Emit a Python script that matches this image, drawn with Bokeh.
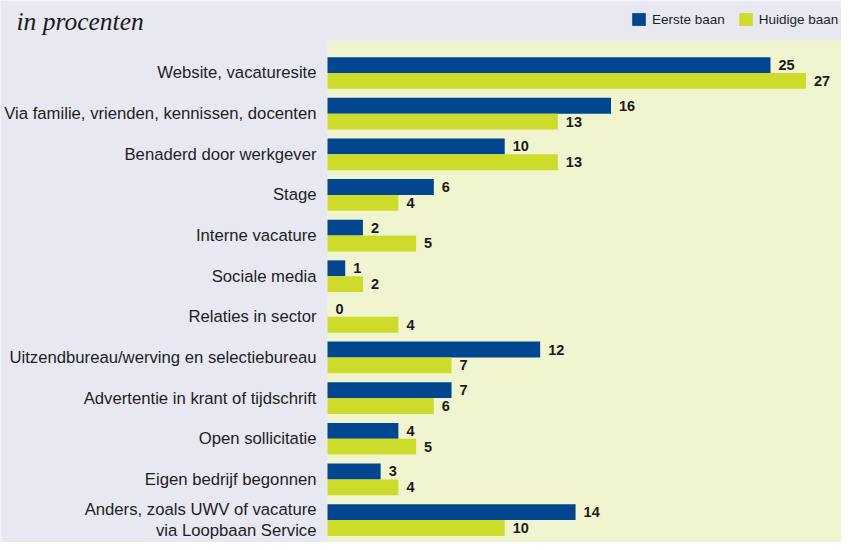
from bokeh.plotting import figure
from bokeh.models import Range1d, Legend, LegendItem, Label, BoxAnnotation
from bokeh.embed import file_html
from bokeh.resources import INLINE
from bokeh.core.properties import value

categories = [
    "Website, vacaturesite",
    "Via familie, vrienden, kennissen, docenten",
    "Benaderd door werkgever",
    "Stage",
    "Interne vacature",
    "Sociale media",
    "Relaties in sector",
    "Uitzendbureau/werving en selectiebureau",
    "Advertentie in krant of tijdschrift",
    "Open sollicitatie",
    "Eigen bedrijf begonnen",
    "Anders, zoals UWV of vacature\nvia Loopbaan Service",
]
eerste = [25, 16, 10, 6, 2, 1, 0, 12, 7, 4, 3, 14]
huidige = [27, 13, 13, 4, 5, 2, 4, 7, 6, 5, 4, 10]
series_names = ["Eerste baan", "Huidige baan"]
title_text = "in procenten"

BLUE = "#02468f"
GREEN = "#cddc2a"
LEFT_BG = "#e8e8f2"
PLOT_BG = "#f0f5cf"
TEXT = "#1e1e1e"

idx = list(range(len(categories)))
half = 0.195
y_blue = [i - half for i in idx]
y_green = [i + half for i in idx]
zeros = [0] * len(idx)

p = figure(width=841, height=542, output_backend="svg", toolbar_location=None,
           x_range=Range1d(-18.454, 29.007), y_range=Range1d(11.553, -1.784),
           min_border=0)
p.background_fill_color = LEFT_BG
p.border_fill_color = LEFT_BG
p.outline_line_color = None
p.grid.visible = False
p.axis.visible = False

# light plot panel behind the bars
p.add_layout(BoxAnnotation(left=0, right=30, top=-0.80, bottom=12, fill_color=PLOT_BG,
                           fill_alpha=1, line_color=None, level="underlay"))

rb = p.hbar(y=y_blue, left=0, right=eerste, height=0.39, fill_color=BLUE, line_color=None)
rg = p.hbar(y=y_green, left=0, right=huidige, height=0.39, fill_color=GREEN, line_color=None)

# category labels
p.text(x=zeros, y=idx, text=categories, x_offset=-11, text_align="right",
       text_baseline="middle", text_font=value("Liberation Sans"),
       text_font_size="16.7px", text_color=TEXT, text_line_height=1.1)

# value labels
p.text(x=eerste, y=y_blue, text=[str(v) for v in eerste], x_offset=8,
       text_baseline="middle", text_align="left", text_font=value("Liberation Sans"),
       text_font_style="bold", text_font_size="14.5px", text_color="#1a1a1a")
p.text(x=huidige, y=y_green, text=[str(v) for v in huidige], x_offset=8,
       text_baseline="middle", text_align="left", text_font=value("Liberation Sans"),
       text_font_style="bold", text_font_size="14.5px", text_color="#1a1a1a")

legend = Legend(items=[LegendItem(label=series_names[0], renderers=[rb]),
                       LegendItem(label=series_names[1], renderers=[rg])],
                orientation="horizontal", location=(630, 515),
                glyph_width=17, glyph_height=16, label_standoff=5, spacing=12,
                padding=0, margin=0, background_fill_alpha=0, border_line_color=None,
                label_text_font="Liberation Sans", label_text_font_size="13.5px",
                label_text_color=TEXT, label_height=16)
p.add_layout(legend, "center")

p.add_layout(Label(x=16, y=521, x_units="screen", y_units="screen", text=title_text,
                   text_font="Liberation Serif", text_font_style="italic",
                   text_font_size="25.5px", text_color="#1a1a1a",
                   text_baseline="alphabetic"))

open("out.html", "w").write(file_html(p, INLINE))
